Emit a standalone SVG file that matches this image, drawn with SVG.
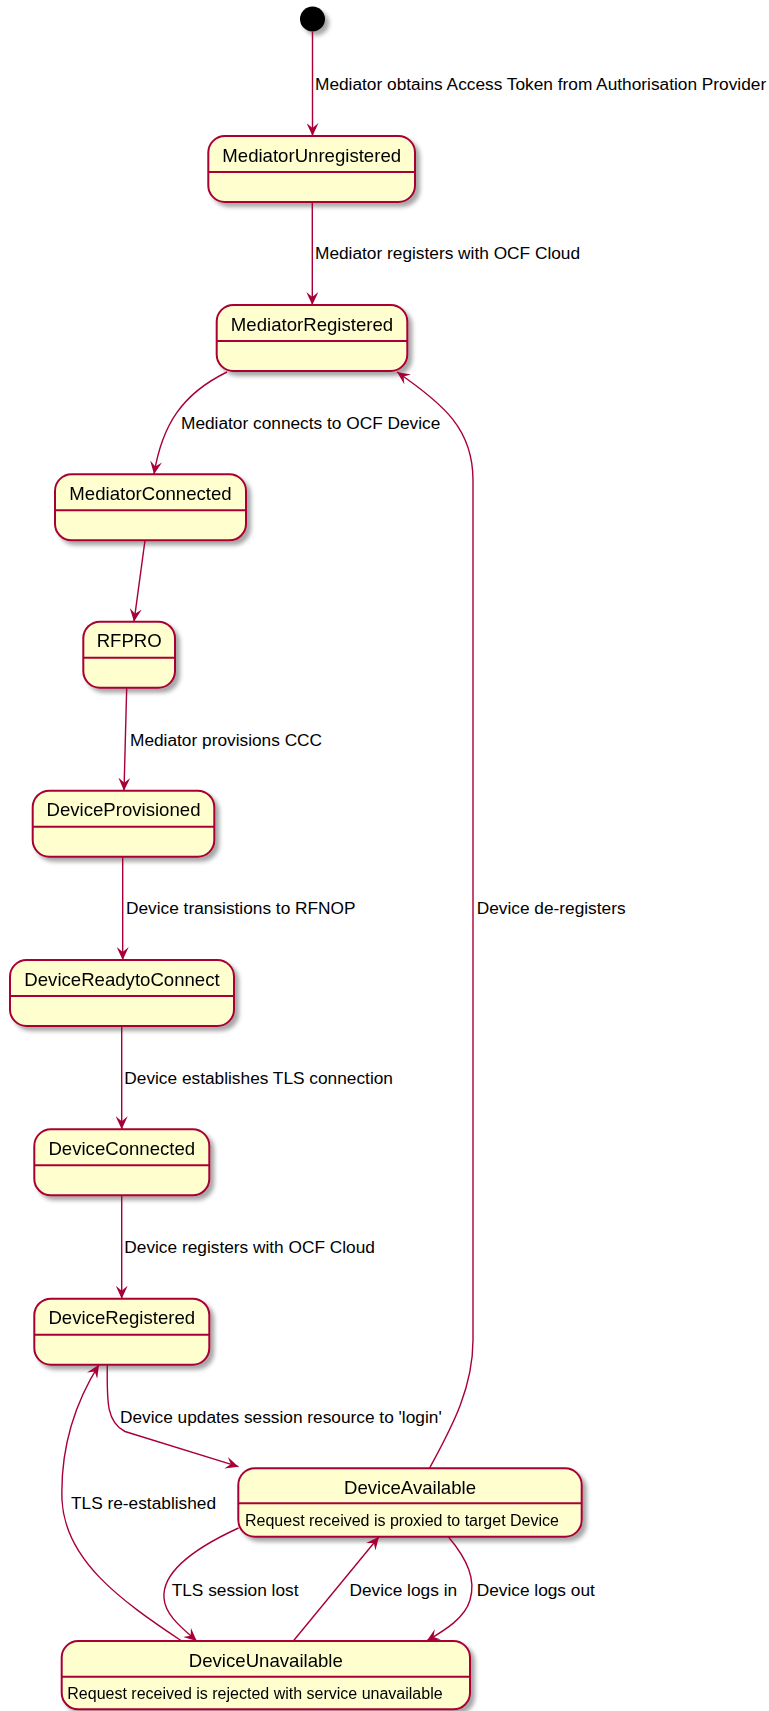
<svg xmlns="http://www.w3.org/2000/svg" width="769" height="1711" viewBox="0 0 769 1711">
<style>
.st{fill:#FEFECE;stroke:#A80036;stroke-width:2;}
.sep{stroke:#A80036;stroke-width:2;}
.nm{font-family:"Liberation Sans",Arial,sans-serif;font-size:18.6px;fill:#000;text-anchor:middle;}
.bd{font-family:"Liberation Sans",Arial,sans-serif;font-size:16px;fill:#000;}
.lb{font-family:"Liberation Sans",Arial,sans-serif;font-size:17.3px;fill:#000;}
.ed{fill:none;stroke:#A80036;stroke-width:1.4;marker-end:url(#ah);}
</style>
<defs>
<filter id="sh" x="-20%" y="-20%" width="150%" height="160%">
<feDropShadow dx="4" dy="4" stdDeviation="2.2" flood-color="#000" flood-opacity="0.35"/>
</filter>
<marker id="ah" markerUnits="userSpaceOnUse" viewBox="0 0 13 12" refX="13" refY="6" markerWidth="13" markerHeight="12" orient="auto">
<path d="M0,0 L13,6 L0,12 L5,6 Z" fill="#A80036"/>
</marker>
</defs>
<rect width="769" height="1711" fill="#FFFFFF"/>

<g id="start">
<circle cx="312.5" cy="19" r="12.5" fill="#000" filter="url(#sh)"/>
</g>

<g id="MediatorUnregistered" filter="url(#sh)">
<rect class="st" x="208.3" y="136" width="206.7" height="66" rx="16.6"/>
<line class="sep" x1="208.3" y1="172" x2="415" y2="172"/>
<text class="nm" x="311.7" y="161.5">MediatorUnregistered</text>
</g>

<g id="MediatorRegistered" filter="url(#sh)">
<rect class="st" x="216.7" y="305" width="190.6" height="66" rx="16.6"/>
<line class="sep" x1="216.7" y1="341" x2="407.3" y2="341"/>
<text class="nm" x="312" y="330.5">MediatorRegistered</text>
</g>

<g id="MediatorConnected" filter="url(#sh)">
<rect class="st" x="55" y="474.3" width="191" height="66" rx="16.6"/>
<line class="sep" x1="55" y1="510.3" x2="246" y2="510.3"/>
<text class="nm" x="150.5" y="499.8">MediatorConnected</text>
</g>

<g id="RFPRO" filter="url(#sh)">
<rect class="st" x="83.3" y="621.7" width="91.7" height="66" rx="16.6"/>
<line class="sep" x1="83.3" y1="657.7" x2="175" y2="657.7"/>
<text class="nm" x="129.2" y="647.2">RFPRO</text>
</g>

<g id="DeviceProvisioned" filter="url(#sh)">
<rect class="st" x="32.7" y="790.7" width="181.6" height="66" rx="16.6"/>
<line class="sep" x1="32.7" y1="826.7" x2="214.3" y2="826.7"/>
<text class="nm" x="123.5" y="816.2">DeviceProvisioned</text>
</g>

<g id="DeviceReadytoConnect" filter="url(#sh)">
<rect class="st" x="10" y="960" width="224" height="66" rx="16.6"/>
<line class="sep" x1="10" y1="996" x2="234" y2="996"/>
<text class="nm" x="122" y="985.5">DeviceReadytoConnect</text>
</g>

<g id="DeviceConnected" filter="url(#sh)">
<rect class="st" x="34.3" y="1129.3" width="175" height="66" rx="16.6"/>
<line class="sep" x1="34.3" y1="1165.3" x2="209.3" y2="1165.3"/>
<text class="nm" x="121.8" y="1154.8">DeviceConnected</text>
</g>

<g id="DeviceRegistered" filter="url(#sh)">
<rect class="st" x="34.3" y="1298.7" width="175" height="66" rx="16.6"/>
<line class="sep" x1="34.3" y1="1334.7" x2="209.3" y2="1334.7"/>
<text class="nm" x="121.8" y="1324.2">DeviceRegistered</text>
</g>

<g id="DeviceAvailable" filter="url(#sh)">
<rect class="st" x="238.3" y="1468.3" width="343.4" height="68.4" rx="16.6"/>
<line class="sep" x1="238.3" y1="1503.3" x2="581.7" y2="1503.3"/>
<text class="nm" x="410" y="1493.5">DeviceAvailable</text>
<text class="bd" x="245" y="1526">Request received is proxied to target Device</text>
</g>

<g id="DeviceUnavailable" filter="url(#sh)">
<rect class="st" x="61.7" y="1641" width="408.3" height="68.3" rx="16.6"/>
<line class="sep" x1="61.7" y1="1676.7" x2="470" y2="1676.7"/>
<text class="nm" x="265.8" y="1666.5">DeviceUnavailable</text>
<text class="bd" x="67.3" y="1699.3">Request received is rejected with service unavailable</text>
</g>

<g id="connectors">
<path class="ed" d="M312.5,31.5 L312.5,136"/>
<text class="lb" x="315" y="90">Mediator obtains Access Token from Authorisation Provider</text>

<path class="ed" d="M312.3,202 L312.3,305"/>
<text class="lb" x="315" y="259">Mediator registers with OCF Cloud</text>

<path class="ed" d="M227,372 C182,394 162,425 154,474.3"/>
<text class="lb" x="181" y="429">Mediator connects to OCF Device</text>

<path class="ed" d="M145,540.3 L134,621.7"/>

<path class="ed" d="M126.7,687.7 L124,790.7"/>
<text class="lb" x="130" y="746">Mediator provisions CCC</text>

<path class="ed" d="M122.7,856.7 L122.7,960"/>
<text class="lb" x="126" y="914">Device transistions to RFNOP</text>

<path class="ed" d="M121.7,1026 L121.7,1129.3"/>
<text class="lb" x="124.3" y="1084">Device establishes TLS connection</text>

<path class="ed" d="M121.7,1195.3 L121.7,1298.7"/>
<text class="lb" x="124.3" y="1253">Device registers with OCF Cloud</text>

<path class="ed" d="M429.5,1468.3 C450,1430 473,1390 473,1340 L473,480 C473,430 445,405 397,372"/>
<text class="lb" x="476.7" y="914">Device de-registers</text>

<path class="ed" d="M107.3,1364.7 C107,1400 106,1422 125,1431.5 L238.5,1466.7"/>
<text class="lb" x="120" y="1423">Device updates session resource to 'login'</text>

<path class="ed" d="M181.7,1641 C120,1600 65,1560 62,1500 C60,1440 80,1395 99,1364.7"/>
<text class="lb" x="71" y="1509">TLS re-established</text>

<path class="ed" d="M238.5,1528 C195,1548 162,1572 164,1598 C165,1615 182,1628 196.7,1641"/>
<text class="lb" x="171.7" y="1596">TLS session lost</text>

<path class="ed" d="M293.3,1641 L379,1536.7"/>
<text class="lb" x="349.5" y="1596">Device logs in</text>

<path class="ed" d="M448.3,1536.7 C468,1560 476,1580 470,1600 C465,1618 445,1630 426.7,1641"/>
<text class="lb" x="476.7" y="1596">Device logs out</text>
</g>
</svg>
